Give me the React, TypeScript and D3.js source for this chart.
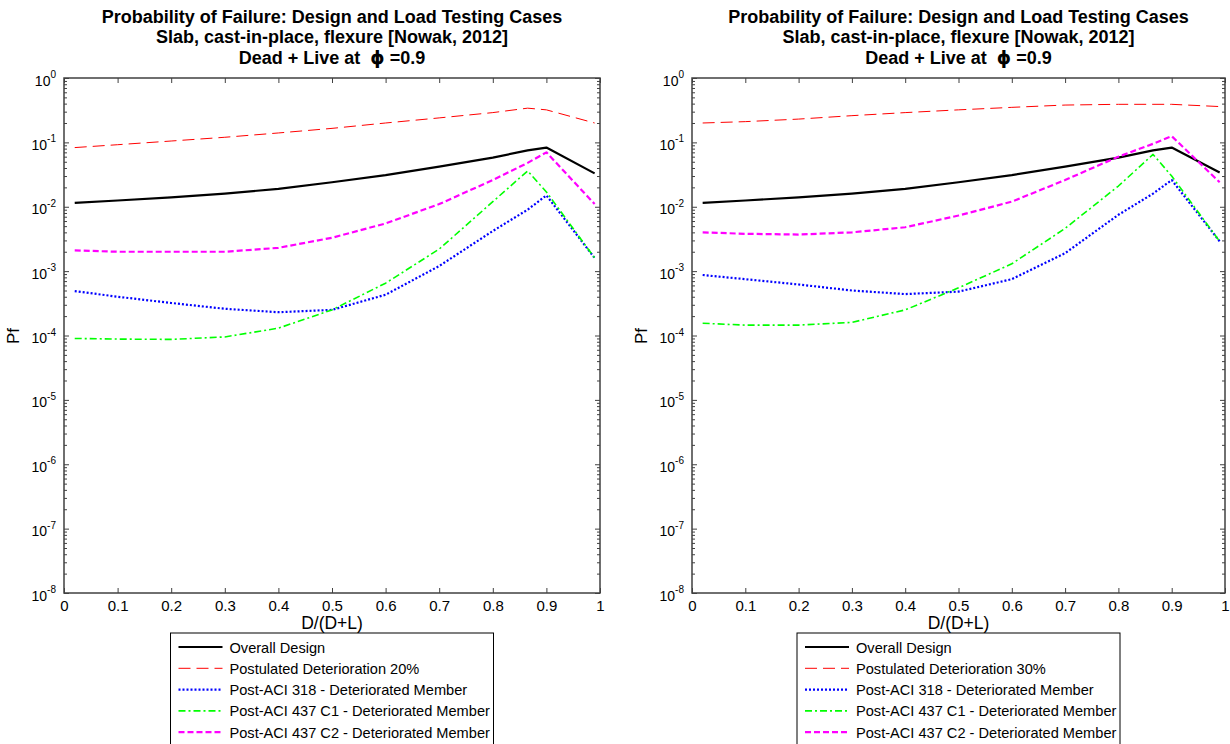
import React, { useEffect, useRef } from 'react';
import * as d3 from 'd3';

// D/(D+L) ratios at which Pf was evaluated
const ratios = [0.02, 0.1, 0.2, 0.3, 0.4, 0.5, 0.6, 0.7, 0.8, 0.865, 0.9, 0.99];
const xTicks = [0, 0.1, 0.2, 0.3, 0.4, 0.5, 0.6, 0.7, 0.8, 0.9, 1];
const yDecades = [-8, -7, -6, -5, -4, -3, -2, -1, 0];

const titleLines = [
  'Probability of Failure: Design and Load Testing Cases',
  'Slab, cast-in-place, flexure [Nowak, 2012]',
];

// left panel (20% deterioration)
const overallLeft = [0.0115, 0.0125, 0.014, 0.016, 0.019, 0.024, 0.031, 0.042, 0.058, 0.075, 0.083, 0.033];
const detLeft = [0.083, 0.092, 0.105, 0.12, 0.14, 0.165, 0.2, 0.24, 0.29, 0.34, 0.32, 0.2];
const aci318Left = [4.9e-4, 4.0e-4, 3.2e-4, 2.6e-4, 2.3e-4, 2.5e-4, 4.3e-4, 1.2e-3, 4.2e-3, 9e-3, 0.015, 1.6e-3];
const c1Left = [9.0e-5, 8.8e-5, 8.7e-5, 9.5e-5, 1.3e-4, 2.5e-4, 6.5e-4, 2.2e-3, 0.012, 0.036, 0.017, 1.6e-3];
const c2Left = [2.1e-3, 2.0e-3, 2.0e-3, 2.0e-3, 2.3e-3, 3.3e-3, 5.5e-3, 0.011, 0.026, 0.048, 0.07, 0.011];

// right panel (30% deterioration)
const overallRight = [0.0115, 0.0125, 0.014, 0.016, 0.019, 0.024, 0.031, 0.042, 0.058, 0.075, 0.083, 0.034];
const detRight = [0.2, 0.21, 0.23, 0.26, 0.29, 0.32, 0.35, 0.38, 0.39, 0.39, 0.39, 0.36];
const aci318Right = [8.7e-4, 7.5e-4, 6.2e-4, 5.0e-4, 4.4e-4, 4.8e-4, 7.5e-4, 1.9e-3, 7.5e-3, 0.016, 0.026, 2.9e-3];
const c1Right = [1.55e-4, 1.45e-4, 1.45e-4, 1.6e-4, 2.5e-4, 5.5e-4, 1.3e-3, 4.6e-3, 0.021, 0.065, 0.03, 2.9e-3];
const c2Right = [4.0e-3, 3.8e-3, 3.7e-3, 4.0e-3, 4.8e-3, 7.3e-3, 0.012, 0.026, 0.06, 0.095, 0.125, 0.024];

interface Style {
  color: string;
  width: number;
  dash: string | null;
}

const styles: Style[] = [
  { color: '#000000', width: 2.2, dash: null },
  { color: '#ff0000', width: 1, dash: '12,6' },
  { color: '#0000ff', width: 2.2, dash: '2,2' },
  { color: '#00ff00', width: 1.6, dash: '7,3,2,3' },
  { color: '#ff00ff', width: 2.2, dash: '6,3' },
];

const FONT = 'Liberation Sans, Arial, sans-serif';

interface PanelProps {
  left: number;
  right: number;
  detLabel: string;
  series: number[][];
}

const Panel: React.FC<PanelProps> = ({ left, right, detLabel, series }) => {
  const ref = useRef<SVGGElement | null>(null);

  useEffect(() => {
    const g = d3.select(ref.current);
    g.selectAll('*').remove();

    const top = 78;
    const bottom = 593;
    const cx = (left + right) / 2;

    const x = d3.scaleLinear().domain([0, 1]).range([left, right]);
    const y = d3.scaleLog().domain([1e-8, 1]).range([bottom, top]);

    // titles
    const tg = g.append('g').attr('font-family', FONT).attr('font-weight', 'bold')
      .attr('font-size', 18).attr('text-anchor', 'middle').attr('fill', '#000');
    titleLines.forEach((t, i) => {
      tg.append('text').attr('x', cx).attr('y', 22.5 + i * 20.5).text(t);
    });
    const t3 = tg.append('text').attr('x', cx).attr('y', 63.5).attr('xml:space', 'preserve');
    t3.append('tspan').text('Dead + Live at  ');
    t3.append('tspan').attr('font-family', 'DejaVu Sans').text('\u03D5');
    t3.append('tspan').text(' =0.9');

    // lines
    const line = d3.line<number>()
      .x((_, i) => x(ratios[i]))
      .y((d) => y(d));

    series.forEach((s, i) => {
      const st = styles[i];
      g.append('path')
        .attr('d', line(s))
        .attr('fill', 'none')
        .attr('stroke', st.color)
        .attr('stroke-width', st.width)
        .attr('stroke-dasharray', st.dash)
        .attr('stroke-linejoin', 'round');
    });

    // axes
    const axisCol = '#404040';
    const minorTicks: number[] = [];
    yDecades.slice(0, -1).forEach((e) => {
      for (let m = 2; m <= 9; m++) minorTicks.push(m * Math.pow(10, e));
    });
    const majors = yDecades.map((e) => Math.pow(10, e));

    const xb = g.append('g').attr('transform', `translate(0,${bottom})`)
      .call(d3.axisBottom(x).tickValues(xTicks).tickSizeInner(-5).tickSizeOuter(0).tickPadding(7)
        .tickFormat((d) => String(d)));
    g.append('g').attr('transform', `translate(0,${top})`)
      .call(d3.axisTop(x).tickValues(xTicks).tickSizeInner(-5).tickSizeOuter(0).tickFormat(() => ''));

    const yl = g.append('g').attr('transform', `translate(${left},0)`)
      .call(d3.axisLeft(y).tickValues(majors).tickSizeInner(-5).tickSizeOuter(0).tickPadding(8)
        .tickFormat(() => ''));
    g.append('g').attr('transform', `translate(${left},0)`)
      .call(d3.axisLeft(y).tickValues(minorTicks).tickSizeInner(-3).tickSizeOuter(0).tickFormat(() => ''));
    g.append('g').attr('transform', `translate(${right},0)`)
      .call(d3.axisRight(y).tickValues(majors).tickSizeInner(-5).tickSizeOuter(0).tickFormat(() => ''));
    g.append('g').attr('transform', `translate(${right},0)`)
      .call(d3.axisRight(y).tickValues(minorTicks).tickSizeInner(-3).tickSizeOuter(0).tickFormat(() => ''));

    g.selectAll('.domain').remove();
    g.selectAll('.tick line').attr('stroke', axisCol).attr('stroke-width', 1);

    xb.selectAll('text').attr('font-family', FONT).attr('font-size', 15).attr('fill', '#000');

    yl.selectAll<SVGTextElement, number>('.tick text').each(function (d) {
      const t = d3.select(this).attr('font-family', FONT).attr('font-size', 14).attr('fill', '#000')
        .attr('dy', '0.5em');
      t.append('tspan').text('10');
      t.append('tspan').attr('font-size', 10).attr('dy', '-0.75em').text(String(Math.round(Math.log10(d))));
    });

    g.append('rect')
      .attr('x', left).attr('y', top)
      .attr('width', right - left).attr('height', bottom - top)
      .attr('fill', 'none').attr('stroke', axisCol).attr('stroke-width', 1.5);

    // axis labels
    g.append('text').attr('x', cx).attr('y', 629).attr('text-anchor', 'middle')
      .attr('font-family', FONT).attr('font-size', 17.5).text('D/(D+L)');
    g.append('text').attr('transform', `translate(${left - 45},${336}) rotate(-90)`)
      .attr('text-anchor', 'middle').attr('font-family', FONT).attr('font-size', 17).text('Pf');

    // legend
    const labels = [
      'Overall Design',
      detLabel,
      'Post-ACI 318 - Deteriorated Member',
      'Post-ACI 437 C1 - Deteriorated Member',
      'Post-ACI 437 C2 - Deteriorated Member',
    ];
    const lw = 323;
    const lx = cx - lw / 2;
    const ly = 633;
    g.append('rect').attr('x', lx).attr('y', ly).attr('width', lw).attr('height', 130)
      .attr('fill', '#fff').attr('stroke', '#000').attr('stroke-width', 1);
    labels.forEach((lab, i) => {
      const yy = ly + 14 + i * 21.3;
      const st = styles[i];
      g.append('line').attr('x1', lx + 8).attr('x2', lx + 52).attr('y1', yy).attr('y2', yy)
        .attr('stroke', st.color).attr('stroke-width', st.width).attr('stroke-dasharray', st.dash);
      g.append('text').attr('x', lx + 59).attr('y', yy + 5.5).attr('font-family', FONT)
        .attr('font-size', 14.6).text(lab);
    });
  }, [left, right, detLabel, series]);

  return <g ref={ref} />;
};

const App: React.FC = () => (
  <svg width={1230} height={744} style={{ position: 'absolute', left: 0, top: 0, background: '#fff' }}>
    <Panel left={64} right={600} detLabel="Postulated Deterioration 20%"
      series={[overallLeft, detLeft, aci318Left, c1Left, c2Left]} />
    <Panel left={692} right={1225} detLabel="Postulated Deterioration 30%"
      series={[overallRight, detRight, aci318Right, c1Right, c2Right]} />
  </svg>
);

export default App;
